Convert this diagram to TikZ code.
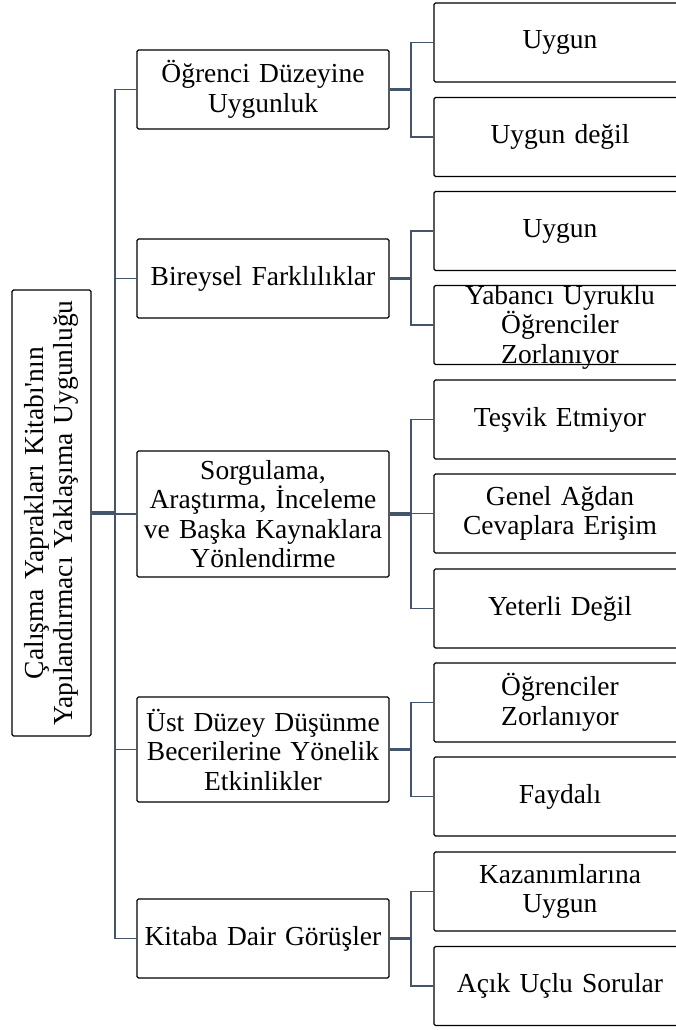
\documentclass[tikz,border=0pt]{standalone}
\usepackage{fontspec}
\setmainfont{Liberation Serif}
\newfontfamily\plainserif{Liberation Serif}[Ligatures=TeXOff]
\definecolor{conn}{HTML}{44546A}
\begin{document}
\begin{tikzpicture}[x=1pt,y=-1pt,
  box/.style={draw=black, fill=white, line width=1.2pt, rounded corners=1.5pt, inner sep=0pt,
    text width=252pt, minimum height=79pt, align=center,
    font=\fontsize{27.5}{29.5}\selectfont},
  plain/.style={inner sep=0pt, text width=252pt, align=center,
    font=\fontsize{27.5}{29.5}\selectfont},
  thinline/.style={draw=conn, line width=1.8pt},
  thickline/.style={draw=conn, line width=3.2pt}]
\useasboundingbox (0,0) rectangle (676,1030);
\clip (0,0) rectangle (676,1030);

% root
\node[box, text width=446pt, minimum height=79pt, rotate=90] (root) at (51.5,513)
  {Çalışma Yaprakları Kitabı{\plainserif '}nın\\Yapılandırmacı Yaklaşıma Uygunluğu};

% level 1
\node[box] (a) at (263,89.5) {Öğrenci Düzeyine\\Uygunluk};
\node[box] (b) at (263,278.5) {Bireysel Farklılıklar};
\node[box, minimum height=126pt] (c) at (263,514) {Sorgulama,\\Araştırma, İnceleme\\ve Başka Kaynaklara\\Yönlendirme};
\node[box, minimum height=105pt] (d) at (263,749.5) {Üst Düzey Düşünme\\Becerilerine Yönelik\\Etkinlikler};
\node[box] (e) at (263,938.5) {Kitaba Dair Görüşler};

% level 2
\node[box] (c1) at (560,42.5) {Uygun};
\node[box] (c2) at (560,137) {Uygun değil};
\node[box] (c3) at (560,231) {Uygun};
\node[box] (c4) at (560,325) {};
\node[plain] (c4t) at (560,327) {Yabancı Uyruklu\\Öğrenciler\\Zorlanıyor};
\node[box] (c5) at (560,419.5) {Teşvik Etmiyor};
\node[box] (c6) at (560,513.5) {Genel Ağdan\\Cevaplara Erişim};
\node[box] (c7) at (560,608.5) {Yeterli Değil};
\node[box] (c8) at (560,702.5) {Öğrenciler\\Zorlanıyor};
\node[box] (c9) at (560,796.5) {Faydalı};
\node[box] (c10) at (560,891.5) {Kazanımlarına\\Uygun};
\node[box] (c11) at (560,986) {Açık Uçlu Sorular};

\coordinate (T) at (115,513);
\coordinate (B) at (411,513);

% root to trunk
\draw[thickline] (root.south) -- (root.south -| T);
\draw[thinline] (a.west) -- (a.west -| T) -- (e.west -| T) -- (e.west);
\foreach \n in {b,c,d} \draw[thinline] (\n.west) -- (\n.west -| T);

% parents to buses
\foreach \n in {a,b,c,d,e} \draw[thickline] (\n.east) -- (\n.east -| B);
\draw[thinline] (c1.west) -- (c1.west -| B) -- (c2.west -| B) -- (c2.west);
\draw[thinline] (c3.west) -- (c3.west -| B) -- (c4.west -| B) -- (c4.west);
\draw[thinline] (c5.west) -- (c5.west -| B) -- (c7.west -| B) -- (c7.west);
\draw[thinline] (c6.west) -- (c6.west -| B);
\draw[thinline] (c8.west) -- (c8.west -| B) -- (c9.west -| B) -- (c9.west);
\draw[thinline] (c10.west) -- (c10.west -| B) -- (c11.west -| B) -- (c11.west);
\end{tikzpicture}
\end{document}
